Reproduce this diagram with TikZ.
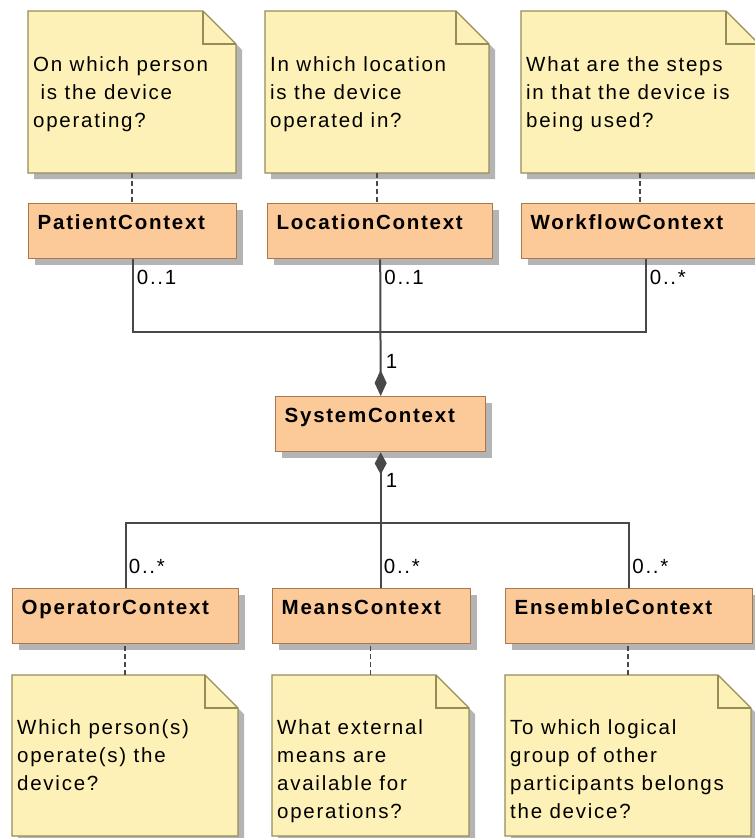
\documentclass[tikz,border=0pt]{standalone}
\usepackage{fontspec}
\setmainfont[LetterSpace=8.5]{Liberation Sans}
\usetikzlibrary{positioning,arrows.meta,shadows}

\definecolor{notefill}{RGB}{253,241,183}
\definecolor{noteline}{RGB}{150,140,88}
\definecolor{clsfill}{RGB}{252,201,152}
\definecolor{clsline}{RGB}{168,120,80}
\definecolor{shadowgray}{RGB}{180,180,180}
\definecolor{linkgray}{RGB}{72,72,72}

\begin{document}
\begin{tikzpicture}[x=1pt,y=-1pt, font=\fontsize{20.5}{28}\selectfont, cls/.style={draw=clsline,fill=clsfill,line width=1.4pt,anchor=north west,align=left,inner xsep=9pt,inner ysep=11pt,text height=15pt,text depth=18pt,font=\fontsize{20.5}{28}\selectfont\bfseries,drop shadow={shadow xshift=6pt,shadow yshift=-6pt,fill=shadowgray,opacity=1}}, notebox/.style={anchor=north west,inner sep=0pt,outer sep=0pt}, notestyle/.style={draw=noteline,fill=notefill,line width=1.4pt,line join=miter}, notetext/.style={anchor=north west,align=left,inner sep=0pt}, notelink/.style={draw=linkgray,line width=1.5pt,dash pattern=on 5pt off 3pt}, assoc/.style={draw=linkgray,line width=2pt}, mult/.style={inner sep=0pt}]
\useasboundingbox (0,0) rectangle (755,838);

% note frames
\foreach \n/\x/\y/\w/\h in {q1/28/11/208/162, q2/265/11/224/162, q3/521/11/238/162, q4/12/675/226/161, q5/272/675/197/161, q6/505/675/246/161}{
  \node[notebox,minimum width=\w pt,minimum height=\h pt] (\n) at (\x,\y) {};
  \fill[shadowgray] ([shift={(6,6)}]\n.north west) -- ([shift={(-27,6)}]\n.north east) -- ([shift={(6,39)}]\n.north east) -- ([shift={(6,6)}]\n.south east) -- ([shift={(6,6)}]\n.south west) -- cycle;
  \filldraw[notestyle] (\n.north west) -- ([shift={(-33,0)}]\n.north east) -- ([shift={(0,33)}]\n.north east) -- (\n.south east) -- (\n.south west) -- cycle;
  \draw[notestyle,fill=none] ([shift={(-33,0)}]\n.north east) -- ([shift={(-33,33)}]\n.north east) -- ([shift={(0,33)}]\n.north east);
}

% note texts
\node[notetext] (t1) at ([shift={(5,45)}]q1.north west) {On which person\\~is the device\\operating?};
\node[notetext] (t2) at ([shift={(5,45)}]q2.north west) {In which location\\is the device\\operated in?};
\node[notetext] (t3) at ([shift={(5,45)}]q3.north west) {What are the steps\\in that the device is\\being used?};
\node[notetext] (t4) at ([shift={(5,44)}]q4.north west) {Which person(s)\\operate(s) the\\device?};
\node[notetext] (t5) at ([shift={(5,44)}]q5.north west) {What external\\means are\\available for\\operations?};
\node[notetext] (t6) at ([shift={(5,44)}]q6.north west) {To which logical\\group of other\\participants belongs\\the device?};

% classes
\node[cls,text width=190pt] (pc) at (28,203) {PatientContext};
\node[cls,text width=207pt] (lc) at (267,203) {LocationContext};
\node[cls,text width=230pt] (wc) at (521,203) {WorkflowContext};
\node[cls,text width=192pt] (sys) at (275,396) {SystemContext};
\node[cls,text width=208pt] (oc) at (12,588) {OperatorContext};
\node[cls,text width=180pt] (mc) at (272,588) {MeansContext};
\node[cls,text width=229pt] (ec) at (505,588) {EnsembleContext};

% note anchors
\draw[notelink] (q1.south) -- (q1.south |- pc.north);
\draw[notelink] (q2.south) -- (q2.south |- lc.north);
\draw[notelink] (q3.south) -- (q3.south |- wc.north);
\draw[notelink] (q4.north) -- (q4.north |- oc.south);
\draw[notelink] (q5.north) -- (q5.north |- mc.south);
\draw[notelink] (q6.north) -- (q6.north |- ec.south);

% compositions
\coordinate (jt) at (sys.north |- 0,332);
\coordinate (jb) at (sys.south |- 0,523);
\draw[assoc] (pc.south) |- (jt);
\draw[assoc] (wc.south) |- (jt);
\draw[assoc,-{Diamond[length=26pt,width=12pt]}] (lc.south) -- (sys.north);
\draw[assoc,{Diamond[length=22pt,width=12pt]}-] (sys.south) -- (sys.south |- mc.north);
\draw[assoc] (jb) -| (oc.north);
\draw[assoc] (jb) -| (ec.north);

% multiplicities
\node[mult,anchor=north west] (m1) at ([shift={(4,11)}]pc.south) {0..1};
\node[mult,anchor=north west] (m2) at ([shift={(4,11)}]lc.south) {0..1};
\node[mult,anchor=north west] (m3) at ([shift={(4,11)}]wc.south) {0..*};
\node[mult,anchor=south west] (m4) at ([shift={(5,-27)}]sys.north) {1};
\node[mult,anchor=north west] (m5) at ([shift={(5,21)}]sys.south) {1};
\node[mult,anchor=south west] (m6) at ([shift={(3,-14)}]oc.north) {0..*};
\node[mult,anchor=south west] (m7) at ([shift={(3,-14)}]sys.south |- mc.north) {0..*};
\node[mult,anchor=south west] (m8) at ([shift={(3,-14)}]ec.north) {0..*};
\end{tikzpicture}
\end{document}
